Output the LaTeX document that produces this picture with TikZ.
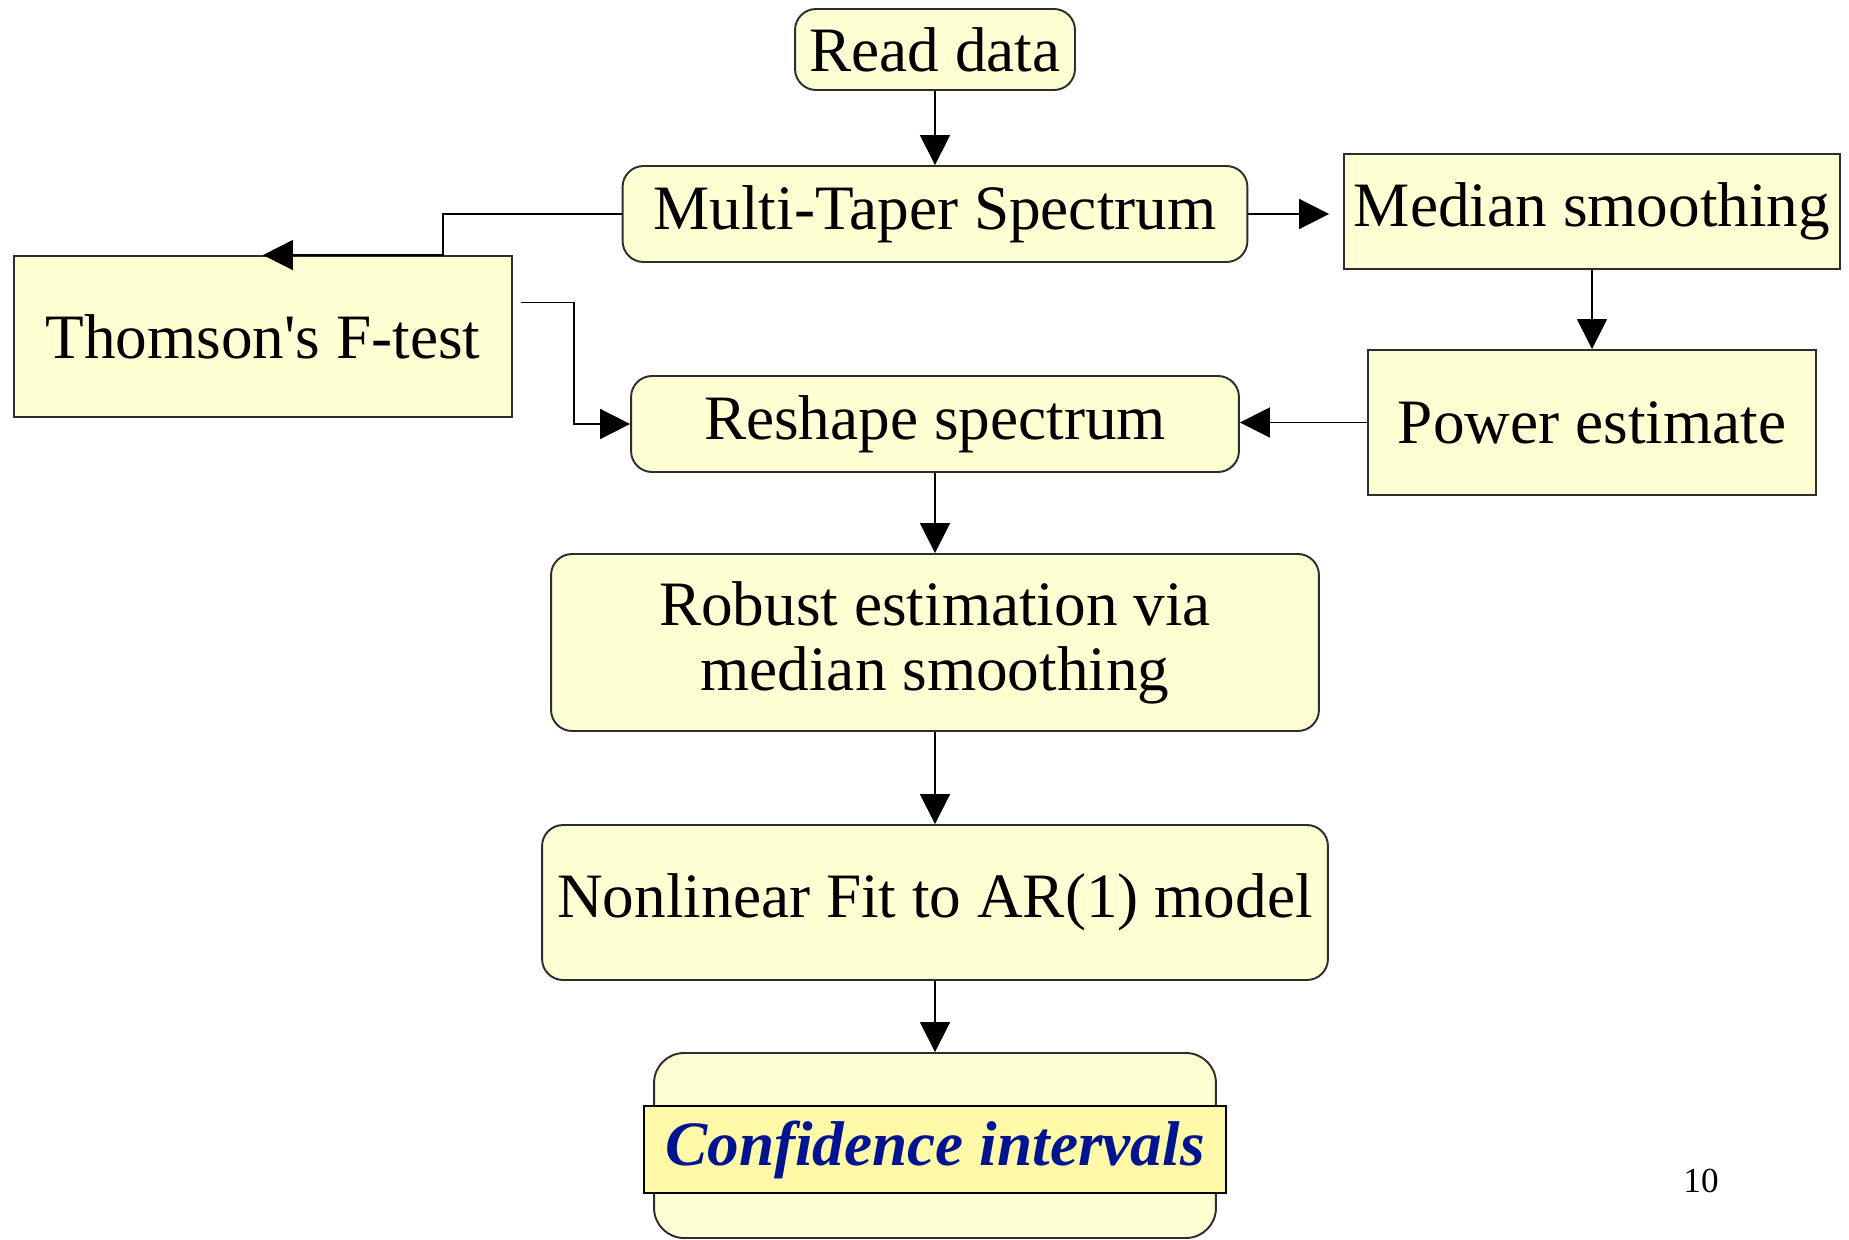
\documentclass[tikz,border=0pt]{standalone}
\usepackage{fontspec}
\setmainfont{Liberation Serif}
\usetikzlibrary{arrows.meta,calc}

\definecolor{boxfill}{RGB}{255,255,212}
\definecolor{confill}{RGB}{255,249,168}
\definecolor{confblue}{RGB}{0,20,145}
\definecolor{edgegray}{RGB}{45,45,45}

\tikzset{
	box/.style={draw=edgegray, line width=1.1pt, fill=boxfill, inner sep=0pt, align=center, font=\fontsize{36}{37}\selectfont},
	roundbox/.style={box, rounded corners=0.42cm},
	flow/.style={line width=1pt, -{Triangle[length=0.6cm,width=0.6cm]}},
}

\begin{document}
\begin{tikzpicture}[x=0.02cm, y=-0.02cm]
			%%%%% START %%%%%
			\def\cx{935}
			\def\px{1592}
			\useasboundingbox (0,0) rectangle (1849,1240);
			
			% main column
			\node[roundbox, minimum width=5.6cm, minimum height=1.62cm] (read) at (\cx,49.5) {Read data};
			\node[roundbox, minimum width=12.5cm, minimum height=1.92cm] (taper) at (\cx,214) {Multi-Taper Spectrum};
			\node[roundbox, minimum width=12.16cm, minimum height=1.92cm] (reshape) at (\cx,424) {Reshape spectrum};
			\node[roundbox, minimum width=15.36cm, minimum height=3.54cm] (robust) at (\cx,642.5) {Robust estimation via\\median smoothing};
			\node[roundbox, minimum width=15.72cm, minimum height=3.1cm] (nonlin) at (\cx,902.5) {Nonlinear Fit to AR(1) model};
			\node[roundbox, rounded corners=0.6cm, minimum width=11.24cm, minimum height=3.7cm] (confbox) at (\cx,1145.5) {};
			\node[box, draw=black, fill=confill, text=confblue, minimum width=11.64cm, minimum height=1.74cm, font=\fontsize{36}{37}\selectfont\bfseries\itshape] (conf) at (\cx,1149.5) {Confidence intervals};
			
			% side boxes
			\node[box, minimum width=9.96cm, minimum height=3.22cm] (ftest) at (263,336.5) {Thomson\textquotesingle s F-test};
			\node[box, minimum width=9.92cm, minimum height=2.3cm] (median) at (\px,211.5) {Median smoothing};
			\node[box, minimum width=8.96cm, minimum height=2.9cm] (power) at (\px,422.5) {Power estimate};
			
			\node[font=\fontsize{20}{24}\selectfont] (page) at (1701,1181) {10};
			
			% connectors
			\draw[flow] (read) -- (taper);
			\draw[flow] (taper.west) -| ([xshift=-1.4cm]ftest.north east) -- (ftest.north);
			\draw[flow, shorten >=0.28cm] (taper.east) -- (taper.east -| median.west);
			\draw[flow] (median) -- (power);
			\draw[flow] (power.west) -- (power.west -| reshape.east);
			\draw[flow] ([xshift=0.16cm,yshift=0.68cm]ftest.east) -| ([xshift=-1.12cm]reshape.west) -- (reshape.west);
			\draw[flow] (reshape) -- (robust);
			\draw[flow] (robust) -- (nonlin);
			\draw[flow] (nonlin) -- (confbox);
			%%%%% END %%%%%
\end{tikzpicture}
\end{document}
